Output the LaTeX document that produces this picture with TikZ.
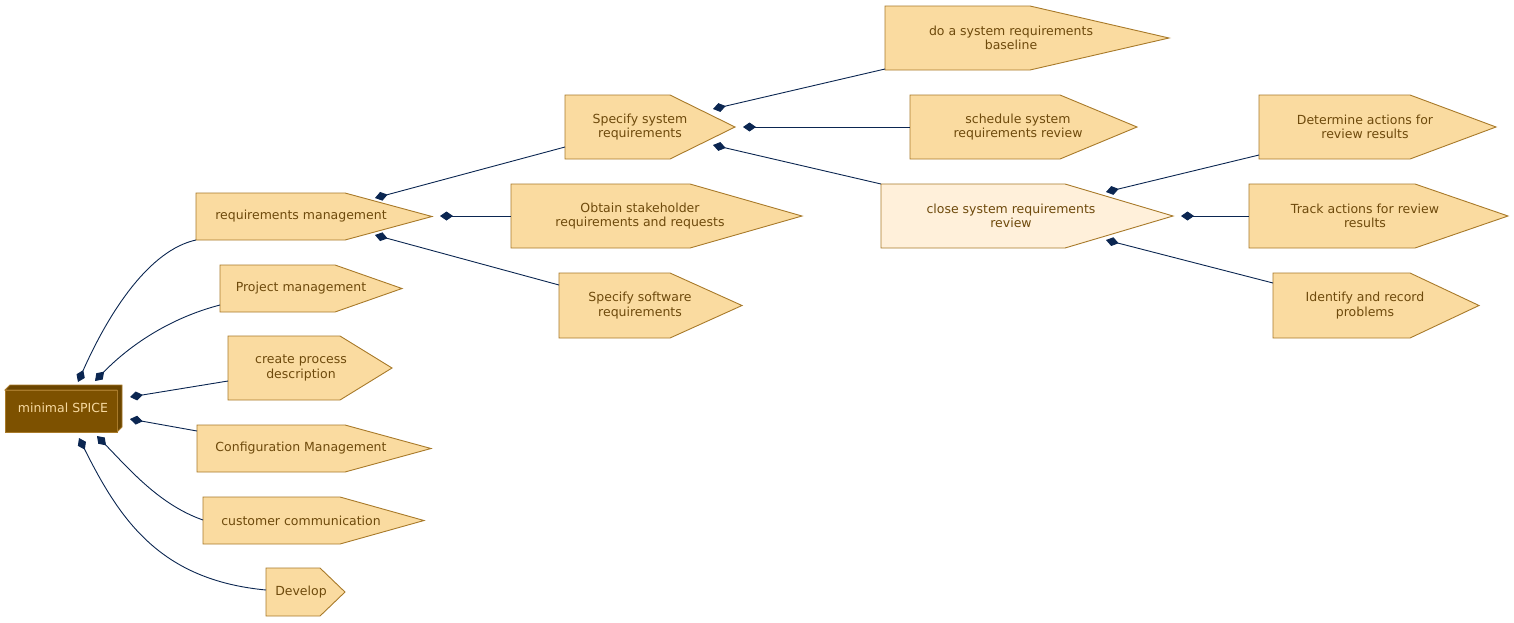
\documentclass[tikz,border=0pt]{standalone}
\usepackage{fontspec}
\setmainfont{DejaVu Sans}
\usetikzlibrary{arrows.meta}
\definecolor{boxfill}{HTML}{FADBA0}
\definecolor{lightfill}{HTML}{FFF0DA}
\definecolor{boxline}{HTML}{A87A2A}
\definecolor{txt}{HTML}{6E4A0C}
\definecolor{link}{HTML}{0B2651}
\definecolor{rootfill}{HTML}{7D5100}
\definecolor{roottxt}{HTML}{F7D9A0}
\tikzset{
  x=1pt,y=-1pt,
  shapeline/.style={draw=boxline,line width=0.9pt},
  lbl/.style={text=txt,font=\fontsize{12.5}{14.5}\selectfont,align=center,inner sep=0},
  conn/.style={draw=link,line width=0.9pt,{Diamond[length=13pt,width=9pt]}-},
}
% name, left, shoulder, tip, top, bottom, fill, text, text center x
\newcommand{\abox}[9]{%
  \filldraw[shapeline,fill=#7] (#2,#5) -- (#3,#5) -- (#4,{(#5+#6)/2}) -- (#3,#6) -- (#2,#6) -- cycle;
  \node[lbl] (#1) at (#9,{(#5+#6)/2}) {#8};
}
\begin{document}
\begin{tikzpicture}
\useasboundingbox (0,0) rectangle (1514,622);
\abox{base}{885}{1030}{1169}{6}{70}{boxfill}{do a system requirements\\baseline}{1011}
\abox{sched}{910}{1060}{1137}{95}{159}{boxfill}{schedule system\\requirements review}{1018}
\abox{spec}{565}{670}{735}{95}{159}{boxfill}{Specify system\\requirements}{640}
\abox{req}{196}{345}{432}{193}{240}{boxfill}{requirements management}{301}
\abox{obt}{511}{690}{802}{184}{248}{boxfill}{Obtain stakeholder\\requirements and requests}{640}
\abox{close}{881}{1065}{1173}{184}{248}{lightfill}{close system requirements\\review}{1011}
\abox{det}{1259}{1410}{1496}{95}{159}{boxfill}{Determine actions for\\review results}{1365}
\abox{track}{1249}{1415}{1508}{184}{248}{boxfill}{Track actions for review\\results}{1365}
\abox{ident}{1273}{1410}{1479}{273}{338}{boxfill}{Identify and record\\problems}{1365}
\abox{sw}{559}{670}{742}{273}{338}{boxfill}{Specify software\\requirements}{640}
\abox{proj}{220}{335}{402}{265}{312}{boxfill}{Project management}{301}
\abox{proc}{228}{340}{392}{336}{400}{boxfill}{create process\\description}{301}
\abox{conf}{197}{345}{431}{425}{472}{boxfill}{Configuration Management}{301}
\abox{cust}{203}{340}{424}{497}{544}{boxfill}{customer communication}{301}
\abox{dev}{266}{320}{345}{568}{616}{boxfill}{Develop}{301}
% root
\filldraw[draw=boxline,fill=rootfill!85!black,line width=0.8pt] (5,390) -- (10,385) -- (122,385) -- (122,427) -- (117,432) -- (117,390) -- cycle;
\filldraw[draw=boxline,fill=rootfill,line width=0.8pt] (5,390) rectangle (117,432);
\node[lbl,text=roottxt] (root) at (63,408) {minimal SPICE};
% attachment points
\coordinate (s1) at (713,109); \coordinate (s2) at (743,127); \coordinate (s3) at (713,145);
\coordinate (r1) at (375,198); \coordinate (r2) at (440,216); \coordinate (r3) at (375,235);
\coordinate (c1) at (1106,192); \coordinate (c2) at (1181,216); \coordinate (c3) at (1106,240);
\coordinate (m1) at (78,382); \coordinate (m2) at (95,381); \coordinate (m3) at (130,397);
\coordinate (m4) at (130,419); \coordinate (m5) at (97,436); \coordinate (m6) at (79,438);
\coordinate (baseE) at (885,69); \coordinate (schedE) at (910,127); \coordinate (closeE) at (881,184);
\coordinate (specE) at (565,147); \coordinate (obtE) at (511,216); \coordinate (swE) at (559,285);
\coordinate (detE) at (1259,155); \coordinate (trackE) at (1249,216); \coordinate (identE) at (1273,283);
\coordinate (reqE) at (196,240); \coordinate (projE) at (220,305); \coordinate (procE) at (228,381);
\coordinate (confE) at (197,431); \coordinate (custE) at (203,520); \coordinate (devE) at (266,590);
\draw[conn] (s1) -- (baseE);
\draw[conn] (s2) -- (schedE);
\draw[conn] (s3) -- (closeE);
\draw[conn] (r1) -- (specE);
\draw[conn] (r2) -- (obtE);
\draw[conn] (r3) -- (swE);
\draw[conn] (c1) -- (detE);
\draw[conn] (c2) -- (trackE);
\draw[conn] (c3) -- (identE);
\draw[conn] (m1) .. controls (110,310) and (150,250) .. (reqE);
\draw[conn] (m2) .. controls (130,345) and (170,318) .. (projE);
\draw[conn] (m3) -- (procE);
\draw[conn] (m4) -- (confE);
\draw[conn] (m5) .. controls (130,470) and (160,505) .. (custE);
\draw[conn] (m6) .. controls (120,520) and (160,580) .. (devE);
\end{tikzpicture}
\end{document}
